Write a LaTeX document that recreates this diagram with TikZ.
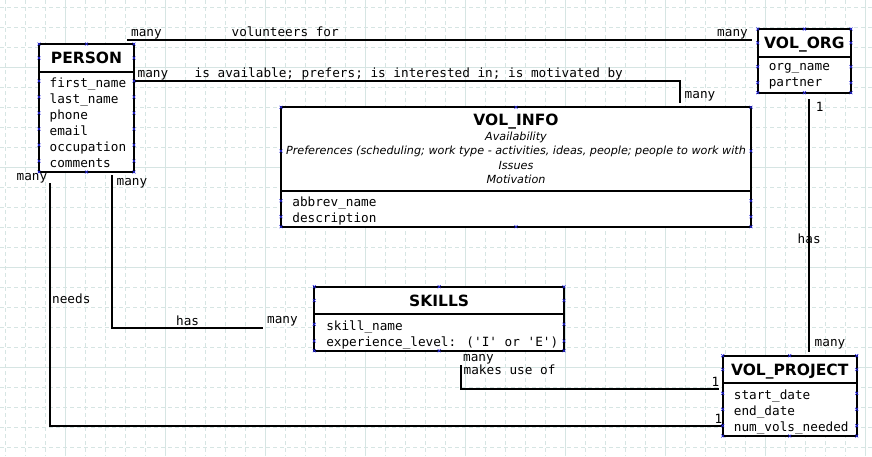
\documentclass[tikz,border=0pt]{standalone}
\usepackage{fontspec}
\setmainfont{DejaVu Sans}
\newfontfamily\erdmono{DejaVu Sans Mono}
\usetikzlibrary{calc}

\definecolor{gridline}{RGB}{214,229,227}
\definecolor{cpblue}{RGB}{40,40,230}

\newcommand{\erdtitle}{\fontsize{15.5}{18}\selectfont\bfseries}
\newcommand{\cpx}[1]{\draw[cpmark] #1 ++(-1.5,-1.5) -- ++(3,3) ++(-3,0) -- ++(3,-3);}

\tikzset{
  classhead/.style={draw, line width=2pt, fill=white, inner sep=0pt, outer sep=0pt,
    font=\erdtitle, text height=11.3pt, text depth=0pt},
  classbody/.style={draw, line width=2pt, fill=white, inner sep=0pt, outer sep=0pt},
  titletext/.style={inner sep=0pt, font=\erdtitle, text height=11.3pt, text depth=0pt},
  attrtext/.style={inner sep=0pt, align=left, font=\erdmono\fontsize{12.7}{16}\selectfont,
    execute at begin node={\rule{0pt}{9.6pt}}},
  notetext/.style={inner sep=0pt, align=center, font=\fontsize{11.2}{14.3}\selectfont\itshape},
  lbl/.style={inner sep=0pt, font=\erdmono\fontsize{12.7}{16}\selectfont},
  assoc/.style={line width=2pt},
  gridminor/.style={gridline, line width=0.8pt, dash pattern=on 4pt off 3pt},
  gridmajor/.style={gridline, line width=1pt},
  cpmark/.style={cpblue, line width=0.6pt}
}

\begin{document}
\begin{tikzpicture}[x=1pt, y=-1pt]
  \useasboundingbox (0,0) rectangle (872,456);
  \fill[white] (0,0) rectangle (872,456);
  % grid
  \foreach \gx in {5,25,...,865} \draw[gridminor] (\gx,0) -- (\gx,456);
  \foreach \gy in {7,27,...,447} \draw[gridminor] (0,\gy) -- (872,\gy);
  \foreach \gx in {65,165,...,865} \draw[gridmajor] (\gx,0) -- (\gx,456);
  \foreach \gy in {67,167,...,367} \draw[gridmajor] (0,\gy) -- (872,\gy);

  % PERSON
  \node[classhead, minimum width=95, minimum height=28] (person) at (86.5,58) {PERSON};
  \node[classbody, minimum width=95, minimum height=100, anchor=north] (person-attrs) at (person.south) {};
  \node[attrtext, anchor=north west] (person-list) at ($(person-attrs.north west)+(10.5,6)$)
    {first\_name\\last\_name\\phone\\email\\occupation\\comments};

  % VOL_ORG
  \node[classhead, minimum width=93.3, minimum height=27.7] (vol-org) at (804.4,42.85) {VOL\_ORG};
  \node[classbody, minimum width=93.3, minimum height=36, anchor=north] (vol-org-attrs) at (vol-org.south) {};
  \node[attrtext, anchor=north west] (vol-org-list) at ($(vol-org-attrs.north west)+(10.8,6)$)
    {org\_name\\partner};

  % VOL_INFO
  \node[classhead, minimum width=470, minimum height=83.7] (vol-info) at (516,149.15) {};
  \node[titletext] (vol-info-title) at ($(vol-info.north)+(0,12.7)$) {VOL\_INFO};
  \node[notetext, anchor=north] (vol-info-note) at ($(vol-info.north)+(0,24.5)$)
    {Availability\\Preferences (scheduling; work type - activities, ideas, people; people to work with\\Issues\\Motivation};
  \node[classbody, minimum width=470, minimum height=35.7, anchor=north] (vol-info-attrs) at (vol-info.south) {};
  \node[attrtext, anchor=north west] (vol-info-list) at ($(vol-info-attrs.north west)+(11.2,6)$)
    {abbrev\_name\\description};

  % SKILLS
  \node[classhead, minimum width=249.7, minimum height=27.6] (skills) at (439.15,300.5) {SKILLS};
  \node[classbody, minimum width=249.7, minimum height=36.4, anchor=north] (skills-attrs) at (skills.south) {};
  \node[attrtext, anchor=north west] (skills-list) at ($(skills-attrs.north west)+(11.8,6)$)
    {skill\_name\\experience\_level: (\textquotesingle I\textquotesingle{} or \textquotesingle E\textquotesingle)};

  % VOL_PROJECT
  \node[classhead, minimum width=134, minimum height=27.6] (vol-project) at (789.7,369.5) {VOL\_PROJECT};
  \node[classbody, minimum width=134, minimum height=52.7, anchor=north] (vol-project-attrs) at (vol-project.south) {};
  \node[attrtext, anchor=north west] (vol-project-list) at ($(vol-project-attrs.north west)+(11,6)$)
    {start\_date\\end\_date\\num\_vols\_needed};

  % volunteers for
  \coordinate (vol-for) at ($(person.north east)+(-7,-4)$);
  \draw[assoc, shorten >=6] (vol-for) -- (vol-for -| vol-org.west);
  \node[lbl, anchor=base west] (vol-for-many1) at (131,36.5) {many};
  \node[lbl, anchor=base west] (vol-for-txt) at (231.5,36.5) {volunteers for};
  \node[lbl, anchor=base west] (vol-for-many2) at (717,36.5) {many};

  % is available ...
  \coordinate (avail-a) at ($(person-attrs.north east)+(0,9)$);
  \coordinate (avail-b) at ($(vol-info.north west)+(399,-4)$);
  \draw[assoc] (avail-a) -| (avail-b);
  \node[lbl, anchor=base west] (avail-many1) at (137.5,77.5) {many};
  \node[lbl, anchor=base west] (avail-txt) at (194.5,77.5) {is available; prefers; is interested in; is motivated by};
  \node[lbl, anchor=base west] (avail-many2) at (684.5,98.5) {many};

  % needs
  \coordinate (needs-a) at ($(person-attrs.south west)+(11,11)$);
  \coordinate (needs-b) at ($(vol-project-attrs.south west)+(0,-10)$);
  \draw[assoc] (needs-a) |- (needs-b);
  \node[lbl, anchor=base west] (needs-many) at (16.5,180) {many};
  \node[lbl, anchor=base west] (needs-txt) at (52,303) {needs};
  \node[lbl, anchor=base west] (needs-one) at (714.5,423) {1};

  % has (skills)
  \coordinate (has-a) at ($(person-attrs.south east)+(-21.7,3)$);
  \coordinate (has-b) at ($(skills-attrs.north west)+(-51,13.4)$);
  \draw[assoc] (has-a) |- (has-b);
  \node[lbl, anchor=base west] (has-many1) at (116.5,185.5) {many};
  \node[lbl, anchor=base west] (has-txt) at (176,325.5) {has};
  \node[lbl, anchor=base west] (has-many2) at (267,323) {many};

  % has (projects)
  \coordinate (org-has) at ($(vol-org-attrs.south)+(5,6.3)$);
  \node[lbl, anchor=base west] (org-has-txt) at (797.5,243) {has};
  \draw[assoc, shorten >=4] (org-has) -- (org-has |- vol-project.north);
  \node[lbl, anchor=base west] (org-has-one) at (815.6,111) {1};
  \node[lbl, anchor=base west] (org-has-many) at (814.5,346) {many};

  % makes use of
  \coordinate (uses-a) at ($(skills-attrs.south)+(21.5,14.3)$);
  \coordinate (uses-b) at ($(vol-project-attrs.north west)+(-3.4,5.7)$);
  \draw[assoc] (uses-a) |- (uses-b);
  \node[lbl, anchor=base west] (uses-many) at (463,361) {many};
  \node[lbl, anchor=base west] (uses-txt) at (463.5,374) {makes use of};
  \node[lbl, anchor=base west] (uses-one) at (711.3,386.3) {1};

  % connection points
  \foreach \yy in {44,58,81,97,113,129,145,161,172} {\cpx{(39,\yy)} \cpx{(134,\yy)}}
  \cpx{(86.5,44)} \cpx{(86.5,172)}
  \foreach \yy in {29,42.8,66.7,82.7,92.7} {\cpx{(757.7,\yy)} \cpx{(851,\yy)}}
  \cpx{(804.4,29)} \cpx{(804.4,92.7)}
  \foreach \yy in {107.3,151,200.7,216.7,226.7} {\cpx{(281,\yy)} \cpx{(751,\yy)}}
  \cpx{(516,107.3)} \cpx{(516,226.7)}
  \foreach \yy in {286.7,300.5,324.3,341,350.7} {\cpx{(314.3,\yy)} \cpx{(564,\yy)}}
  \cpx{(439.15,286.7)} \cpx{(439.15,350.7)}
  \foreach \yy in {355.7,369.5,393.3,409.3,425.7,436} {\cpx{(722.7,\yy)} \cpx{(856.7,\yy)}}
  \cpx{(789.7,355.7)} \cpx{(789.7,436)}
\end{tikzpicture}
\end{document}
